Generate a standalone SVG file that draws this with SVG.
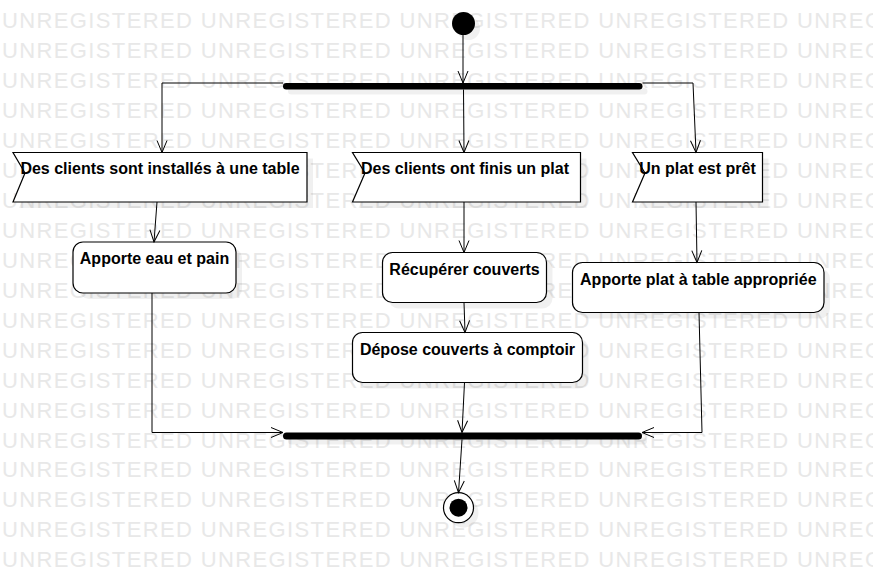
<svg xmlns="http://www.w3.org/2000/svg" xmlns:xlink="http://www.w3.org/1999/xlink" width="873" height="573" viewBox="0 0 873 573">
  <style>
    .wm { font-family: "Liberation Sans", Arial, sans-serif; font-size: 22px; fill: #e8e8e8; }
    .node { fill: #ffffff; stroke: #000000; stroke-width: 1.2; }
    .sh { fill: #000000; opacity: 0.06; }
    .bar { fill: #000000; }
    .lbl { font-family: "Liberation Sans", Arial, sans-serif; font-size: 16px; font-weight: bold; fill: #000000; text-anchor: middle; }
    .edge { fill: none; stroke: #000000; stroke-width: 1; marker-end: url(#arrow); }
  </style>
  <defs>
    <marker id="arrow" markerUnits="userSpaceOnUse" markerWidth="14" markerHeight="12" viewBox="0 0 14 12" refX="13" refY="6" orient="auto">
      <path d="M1,1 L13,6 L1,11" fill="none" stroke="#000000" stroke-width="1"/>
    </marker>
    <text id="wmrow" class="wm" x="2" y="0" textLength="985" lengthAdjust="spacing">UNREGISTERED UNREGISTERED UNREGISTERED UNREGISTERED UNREGISTERED</text>
  </defs>
  <rect x="0" y="0" width="873" height="573" fill="#ffffff"/>
  <g id="watermark">
    <use xlink:href="#wmrow" y="28.3"/>
    <use xlink:href="#wmrow" y="58.2"/>
    <use xlink:href="#wmrow" y="88.2"/>
    <use xlink:href="#wmrow" y="118.1"/>
    <use xlink:href="#wmrow" y="148.1"/>
    <use xlink:href="#wmrow" y="178.0"/>
    <use xlink:href="#wmrow" y="207.9"/>
    <use xlink:href="#wmrow" y="237.9"/>
    <use xlink:href="#wmrow" y="267.8"/>
    <use xlink:href="#wmrow" y="297.8"/>
    <use xlink:href="#wmrow" y="327.7"/>
    <use xlink:href="#wmrow" y="357.6"/>
    <use xlink:href="#wmrow" y="387.6"/>
    <use xlink:href="#wmrow" y="417.5"/>
    <use xlink:href="#wmrow" y="447.5"/>
    <use xlink:href="#wmrow" y="477.4"/>
    <use xlink:href="#wmrow" y="507.3"/>
    <use xlink:href="#wmrow" y="537.3"/>
    <use xlink:href="#wmrow" y="567.2"/>
  </g>

  <g id="start">
    <circle class="sh" cx="468.5" cy="28.5" r="11.5"/>
    <circle cx="463.5" cy="23.5" r="11.5" fill="#000000"/>
  </g>
  <g id="fork">
    <rect class="sh" x="288" y="88" width="359.5" height="6.5" rx="3.2"/>
    <rect class="bar" x="283" y="83" width="359.5" height="6.5" rx="3.2"/>
  </g>
  <g id="flag-clients-installes">
    <polygon class="sh" points="19,158.5 313,158.5 313,208 19,208 31,179"/>
    <polygon class="node" points="13,152.5 307,152.5 307,202 13,202 25,173"/>
    <text class="lbl" x="160" y="174">Des clients sont installés à une table</text>
  </g>
  <g id="flag-clients-finis">
    <polygon class="sh" points="358.5,158.5 586.5,158.5 586.5,208 358.5,208 371,179"/>
    <polygon class="node" points="352.5,152.5 580.5,152.5 580.5,202 352.5,202 365,173"/>
    <text class="lbl" x="465" y="174">Des clients ont finis un plat</text>
  </g>
  <g id="flag-plat-pret">
    <polygon class="sh" points="638.5,158.5 768.5,158.5 768.5,208 638.5,208 651,179"/>
    <polygon class="node" points="632.5,152.5 762.5,152.5 762.5,202 632.5,202 645,173"/>
    <text class="lbl" x="697.5" y="174">Un plat est prêt</text>
  </g>
  <g id="act-eau-pain">
    <rect class="sh" x="79" y="248" width="163" height="51" rx="10"/>
    <rect class="node" x="73" y="242" width="163" height="51" rx="10"/>
    <text class="lbl" x="154.5" y="264">Apporte eau et pain</text>
  </g>
  <g id="act-recuperer">
    <rect class="sh" x="388.5" y="258.5" width="164" height="50" rx="10"/>
    <rect class="node" x="382.5" y="252.5" width="164" height="50" rx="10"/>
    <text class="lbl" x="464.5" y="274.5">Récupérer couverts</text>
  </g>
  <g id="act-depose">
    <rect class="sh" x="358.5" y="338.5" width="230" height="50" rx="10"/>
    <rect class="node" x="352.5" y="332.5" width="230" height="50" rx="10"/>
    <text class="lbl" x="467.5" y="354.5">Dépose couverts à comptoir</text>
  </g>
  <g id="act-apporte-plat">
    <rect class="sh" x="578.5" y="268.5" width="251.5" height="50" rx="10"/>
    <rect class="node" x="572.5" y="262.5" width="251.5" height="50" rx="10"/>
    <text class="lbl" x="698.3" y="284.5">Apporte plat à table appropriée</text>
  </g>
  <g id="join">
    <rect class="sh" x="288" y="437.5" width="359" height="7" rx="3.5"/>
    <rect class="bar" x="283" y="432.5" width="359" height="7" rx="3.5"/>
  </g>
  <g id="end">
    <circle class="sh" cx="463.5" cy="512.7" r="15"/>
    <circle class="node" cx="458.5" cy="507.7" r="15"/>
    <circle cx="458.5" cy="507.7" r="9" fill="#000000"/>
  </g>

  <g id="connectors">
    <path class="edge" d="M463,35 L463,83"/>
    <path class="edge" d="M283,83 L162,83 L162,152.5"/>
    <path class="edge" d="M463.5,89.5 L464,152.5"/>
    <path class="edge" d="M642.5,83 L693,83 L696,152.5"/>
    <path class="edge" d="M157,202 L154,242"/>
    <path class="edge" d="M464,202 L464,252.5"/>
    <path class="edge" d="M464,302.5 L465,332.5"/>
    <path class="edge" d="M696,202 L697,262.5"/>
    <path class="edge" d="M152,293 L152,432.5 L283,432.5"/>
    <path class="edge" d="M464.5,382.5 L462,432.5"/>
    <path class="edge" d="M699,312.5 L702,432.5 L642,432.5"/>
    <path class="edge" d="M462,439.5 L458.5,492.7"/>
  </g>
</svg>
